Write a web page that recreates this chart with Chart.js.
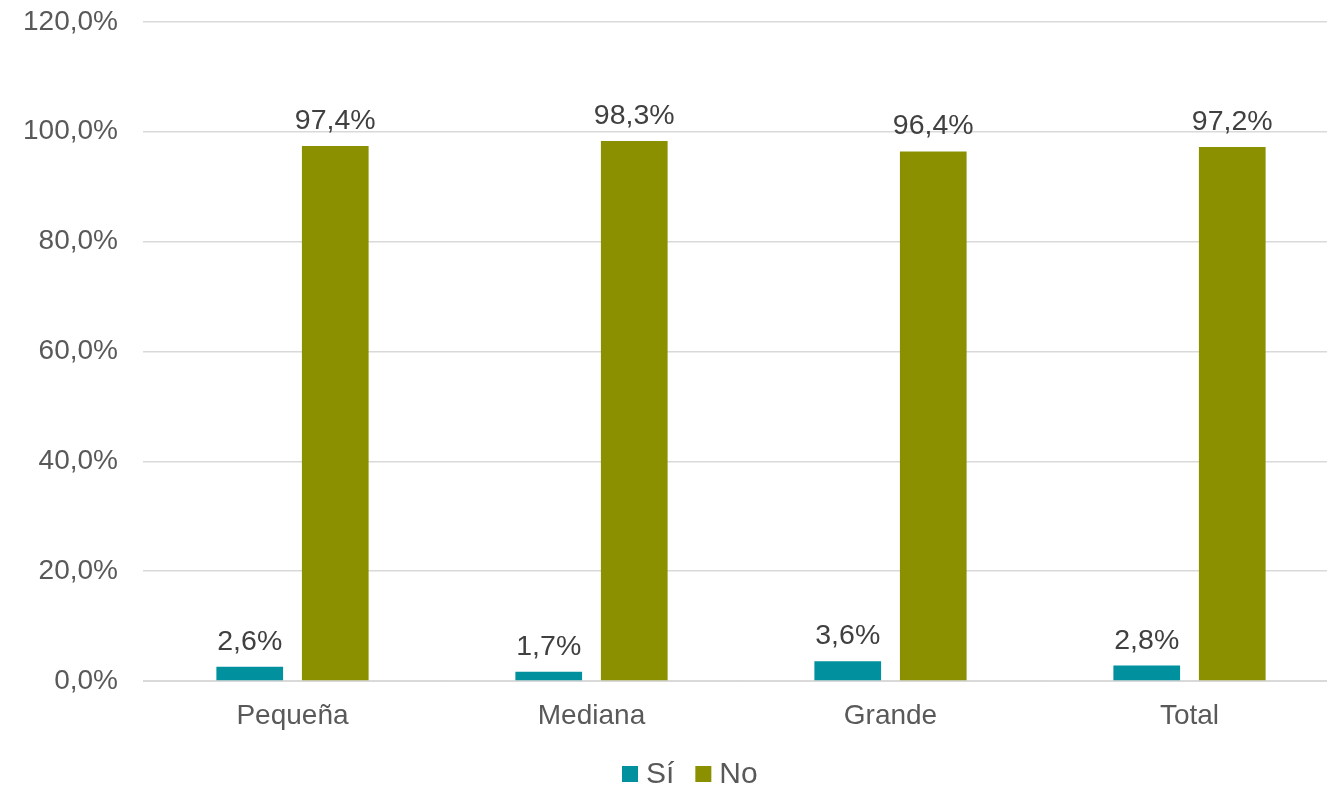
<!DOCTYPE html>
<html>
<head>
<meta charset="utf-8">
<script src="https://cdn.jsdelivr.net/npm/chart.js@4.4.0/dist/chart.umd.min.js"></script>
<style>
  html, body { margin: 0; padding: 0; background: #fff; overflow: hidden; }
  #wrap { width: 1340px; height: 812px; margin-top: -20px; }
</style>
</head>
<body>
<div id="wrap"><canvas id="c" width="1340" height="812"></canvas></div>
<script>
const categories = ["Pequeña", "Mediana", "Grande", "Total"];
const siValues = [2.6, 1.7, 3.6, 2.8];
const noValues = [97.4, 98.3, 96.4, 97.2];
const seriesNames = ["Sí", "No"];
const yTicks = [0, 20, 40, 60, 80, 100, 120];

const fmt = v => v.toFixed(1).replace('.', ',') + '%';
const FONT = "'Liberation Sans', Arial, sans-serif";
const SHIFT = 20; // canvas is shifted up by this many px

const labelPlugin = {
  id: 'barLabels',
  afterDatasetsDraw(chart) {
    const ctx = chart.ctx;
    ctx.save();
    ctx.font = "28.5px " + FONT;
    ctx.fillStyle = "#404040";
    ctx.textAlign = "center";
    ctx.textBaseline = "alphabetic";
    chart.data.datasets.forEach((ds, i) => {
      const meta = chart.getDatasetMeta(i);
      meta.data.forEach((bar, j) => {
        ctx.fillText(fmt(ds.data[j]), bar.x, bar.y - 17);
      });
    });
    ctx.restore();
  }
};

const legendPlugin = {
  id: 'customLegend',
  afterDraw(chart) {
    const ctx = chart.ctx;
    ctx.save();
    ctx.font = "30px " + FONT;
    ctx.textBaseline = "alphabetic";
    ctx.textAlign = "left";
    let x = 622;
    const boxTop = 766 + SHIFT, baseline = 783 + SHIFT;
    chart.data.datasets.forEach((ds, i) => {
      ctx.fillStyle = ds.backgroundColor;
      ctx.fillRect(x, boxTop, 16, 16);
      x += 16 + 8;
      ctx.fillStyle = '#595959';
      ctx.fillText(ds.label, x, baseline);
      x += ctx.measureText(ds.label).width + 21;
    });
    ctx.restore();
  }
};

new Chart(document.getElementById('c'), {
  type: 'bar',
  data: {
    labels: categories,
    datasets: [
      { label: seriesNames[0], data: siValues, backgroundColor: '#00909E' },
      { label: seriesNames[1], data: noValues, backgroundColor: '#8A9000' }
    ]
  },
  options: {
    responsive: false,
    devicePixelRatio: 1,
    animation: false,
    layout: { padding: { top: 7, right: 1, left: 0, bottom: 54 } },
    datasets: { bar: { categoryPercentage: 0.572, barPercentage: 0.78 } },
    scales: {
      x: {
        grid: { display: false },
        border: { color: '#D9D9D9', width: 1 },
        ticks: { color: '#595959', font: { family: FONT, size: 28 }, padding: 10 },
        afterFit(s) { s.height = 57; }
      },
      y: {
        min: 0, max: 120,
        afterBuildTicks(s) { s.ticks = yTicks.map(v => ({ value: v })); },
        grid: { color: '#D9D9D9', lineWidth: 1.5, drawTicks: false },
        border: { display: false },
        ticks: { color: '#595959', font: { family: FONT, size: 28 }, padding: 25, callback: v => fmt(v) },
        afterFit(s) { s.width = 143; }
      }
    },
    plugins: {
      legend: { display: false },
      tooltip: { enabled: false }
    }
  },
  plugins: [labelPlugin, legendPlugin]
});
</script>
</body>
</html>
